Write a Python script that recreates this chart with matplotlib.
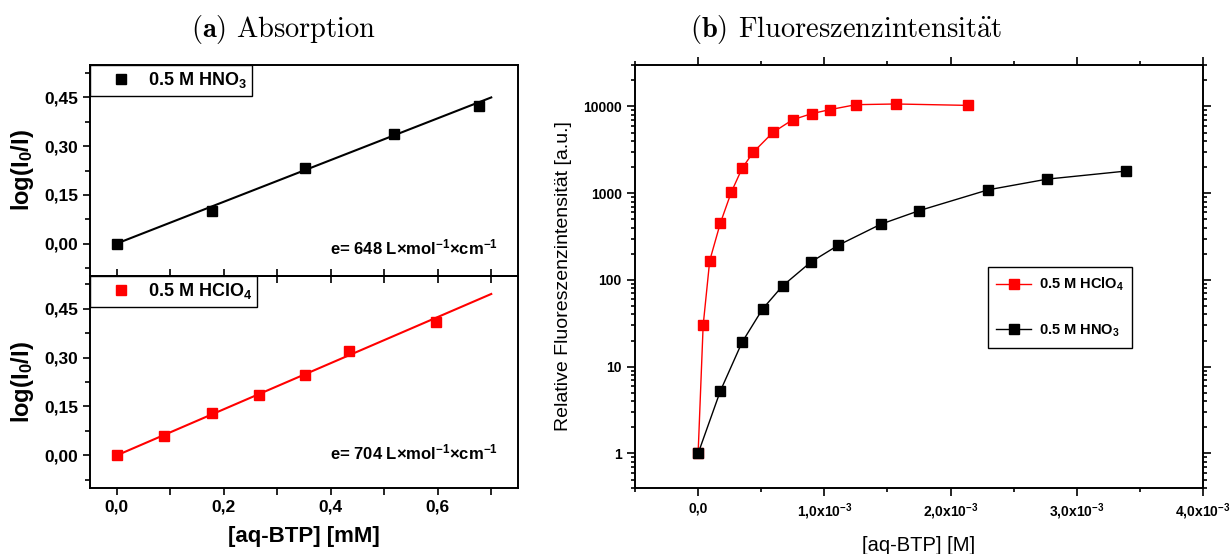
"""
Absorption (a) und Fluoreszenzintensität (b) von aq-BTP in HNO3 / HClO4
"""
import matplotlib
matplotlib.use("Agg")
import matplotlib.pyplot as plt
from matplotlib.ticker import MultipleLocator, FuncFormatter, FixedLocator, LogLocator, NullFormatter

# --- (a) Absorption: log(I0/I) gegen [aq-BTP] in mM
abs_hno3_x = [0.0, 0.178, 0.352, 0.518, 0.678]
abs_hno3_y = [0.0, 0.101, 0.233, 0.338, 0.425]
abs_hclo4_x = [0.0, 0.089, 0.178, 0.265, 0.352, 0.435, 0.596]
abs_hclo4_y = [0.0, 0.060, 0.130, 0.185, 0.246, 0.319, 0.409]
fit_range = [0.0, 0.70]
fit_slope_hno3 = 0.643
fit_slope_hclo4 = 0.707
eps_hno3 = 648
eps_hclo4 = 704

# --- (b) Fluoreszenz: relative Intensität gegen [aq-BTP] in M
fl_hclo4_x = [0.0, 0.04e-3, 0.092e-3, 0.176e-3, 0.263e-3, 0.348e-3, 0.435e-3,
              0.593e-3, 0.749e-3, 0.899e-3, 1.041e-3, 1.25e-3, 1.569e-3, 2.141e-3]
fl_hclo4_y = [1, 30, 167, 451, 1028, 1927, 2944, 5015, 7020, 8240, 9160,
              10470, 10660, 10270]
fl_hno3_x = [0.0, 0.176e-3, 0.348e-3, 0.511e-3, 0.669e-3, 0.894e-3, 1.11e-3,
             1.448e-3, 1.753e-3, 2.299e-3, 2.766e-3, 3.388e-3]
fl_hno3_y = [1, 5.24, 19.1, 46.3, 85.3, 161, 251, 439, 630, 1094, 1452, 1796]

plt.rcParams["font.family"] = ["Liberation Sans", "DejaVu Sans"]
plt.rcParams["mathtext.fontset"] = "custom"
plt.rcParams["mathtext.rm"] = "Liberation Sans"
plt.rcParams["mathtext.bf"] = "Liberation Sans:bold"
plt.rcParams["mathtext.it"] = "Liberation Sans:italic"

RED = "#ff0000"
W, H = 1231, 554
fig = plt.figure(figsize=(W / 100, H / 100), dpi=100)


def box(x0, y0, x1, y1):
    # Pixelkoordinaten (oben links) -> Figure-Koordinaten
    return [x0 / W, 1 - y1 / H, (x1 - x0) / W, (y1 - y0) / H]


ax_top = fig.add_axes(box(90, 65, 518, 276))
ax_bot = fig.add_axes(box(90, 276, 518, 488))
ax_fl = fig.add_axes(box(635, 65, 1203, 488))

comma = FuncFormatter(lambda v, p: f"{v:.2f}".replace(".", ","))
comma1 = FuncFormatter(lambda v, p: f"{v:.1f}".replace(".", ","))

panels = [
    (ax_top, abs_hno3_x, abs_hno3_y, fit_slope_hno3, "black",
     r"0.5 M HNO$_\mathbf{3}$", eps_hno3, 0.137),
    (ax_bot, abs_hclo4_x, abs_hclo4_y, fit_slope_hclo4, RED,
     r"0.5 M HClO$_\mathbf{4}$", eps_hclo4, 0.167),
]
for ax, xs, ys, slope, col, lab, eps, ty in panels:
    ax.set_facecolor("none")
    ax.plot(fit_range, [slope * v for v in fit_range], color=col, lw=1.5, zorder=2)
    ax.plot(xs, ys, ls="none", marker="s", ms=6.5, color=col, label=lab, zorder=3)
    ax.set_xlim(-0.05, 0.75)
    ax.set_ylim(-0.1, 0.55)
    ax.yaxis.set_major_locator(FixedLocator([0.0, 0.15, 0.30, 0.45]))
    ax.yaxis.set_minor_locator(MultipleLocator(0.075))
    ax.xaxis.set_major_locator(MultipleLocator(0.2))
    ax.xaxis.set_minor_locator(MultipleLocator(0.1))
    ax.yaxis.set_major_formatter(comma)
    ax.xaxis.set_major_formatter(comma1)
    for s in ax.spines.values():
        s.set_linewidth(1.4)
    ax.tick_params(which="both", direction="out", width=1.2, labelsize=12.5)
    ax.tick_params(which="major", length=5)
    ax.tick_params(which="minor", length=3.5)
    ax.tick_params(axis="x", which="both", length=5)
    for t in ax.get_xticklabels() + ax.get_yticklabels():
        t.set_fontweight("bold")
    ax.set_ylabel(r"log(I$_\mathbf{0}$/I)", fontsize=17, fontweight="bold", labelpad=6)
    leg = ax.legend(loc="upper left", borderaxespad=0, fancybox=False, framealpha=1,
                    edgecolor="black", handletextpad=0.1, borderpad=0.3,
                    prop={"weight": "bold", "size": 13}, handlelength=2.8)
    leg.get_frame().set_linewidth(1.0)
    ax.text(0.953, ty, f"e= {eps} L" + r"×mol$^{\mathbf{-1}}$×cm$^{\mathbf{-1}}$",
            transform=ax.transAxes, ha="right", va="center",
            fontsize=12, fontweight="bold")

ax_top.tick_params(axis="x", labelbottom=False)
ax_bot.tick_params(axis="x", top=True, which="both")
ax_bot.set_xlabel("[aq-BTP] [mM]", fontsize=16, fontweight="bold", labelpad=8)

# --- (b)
ax_fl.plot(fl_hclo4_x, fl_hclo4_y, color=RED, lw=1.0, marker="s", ms=7,
           label=r"0.5 M HClO$_\mathbf{4}$")
ax_fl.plot(fl_hno3_x, fl_hno3_y, color="black", lw=1.0, marker="s", ms=7,
           label=r"0.5 M HNO$_\mathbf{3}$")
ax_fl.set_yscale("log")
ax_fl.set_xlim(-0.5e-3, 4.0e-3)
ax_fl.set_ylim(0.4, 3e4)
ax_fl.xaxis.set_major_locator(MultipleLocator(1e-3))
ax_fl.xaxis.set_minor_locator(MultipleLocator(0.5e-3))


def sci(v, p):
    if abs(v) < 1e-9:
        return "0,0"
    return f"{v * 1e3:.1f}".replace(".", ",") + r"x10$^{\mathbf{-3}}$"


ax_fl.xaxis.set_major_formatter(FuncFormatter(sci))
ax_fl.yaxis.set_major_locator(LogLocator(base=10, numticks=10))
ax_fl.yaxis.set_minor_locator(LogLocator(base=10, subs=range(2, 10), numticks=20))
ax_fl.yaxis.set_major_formatter(FuncFormatter(lambda v, p: f"{v:.0f}"))
ax_fl.yaxis.set_minor_formatter(NullFormatter())
for s in ax_fl.spines.values():
    s.set_linewidth(1.4)
ax_fl.tick_params(which="both", direction="out", width=1.2, top=True, right=True)
ax_fl.tick_params(which="major", length=6, labelsize=10)
ax_fl.tick_params(which="minor", length=3)
for t in ax_fl.get_xticklabels() + ax_fl.get_yticklabels():
    t.set_fontweight("bold")
ax_fl.set_xlabel("[aq-BTP] [M]", fontsize=14.5, labelpad=10)
ax_fl.set_ylabel("Relative Fluoreszenzintensität [a.u.]", fontsize=14, labelpad=8)
leg = ax_fl.legend(loc="upper left", bbox_to_anchor=(0.621, 0.522), borderaxespad=0,
                   fancybox=False, framealpha=1, edgecolor="black",
                   prop={"weight": "bold", "size": 10.5}, labelspacing=2.0,
                   handlelength=2.4, handletextpad=0.5, borderpad=0.6)
leg.get_frame().set_linewidth(1.0)

# --- Titel
fig.text(226 / W, 1 - 37 / H, r"$\mathbf{(a)}$", ha="right", va="baseline",
         fontsize=20.5, math_fontfamily="cm")
fig.text(236 / W, 1 - 37 / H, r"$\mathrm{Absorption}$", ha="left", va="baseline",
         fontsize=20.5, math_fontfamily="cm")
fig.text(727 / W, 1 - 37 / H, r"$\mathbf{(b)}$", ha="right", va="baseline",
         fontsize=20.5, math_fontfamily="cm")
fig.text(738 / W, 1 - 37 / H, r"$\mathrm{Fluoreszenzintensit\ddot{a}t}$", ha="left",
         va="baseline", fontsize=20.5, math_fontfamily="cm")

fig.savefig("out.png", dpi=100)
